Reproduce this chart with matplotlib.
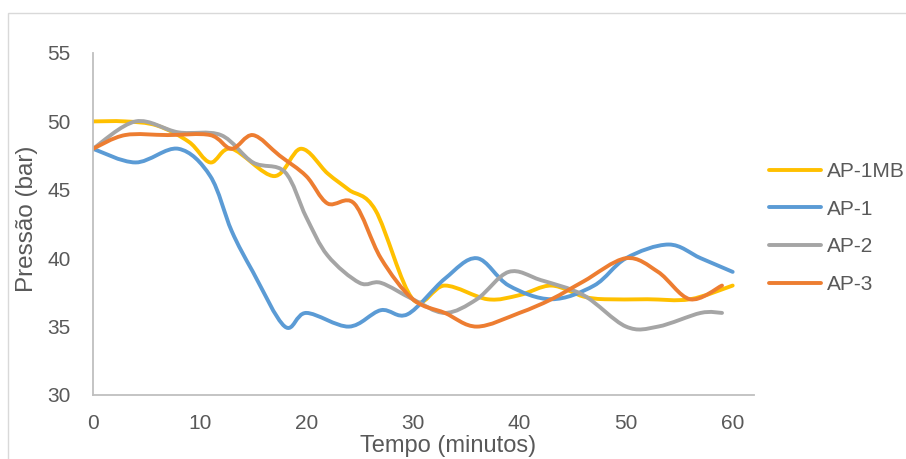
import matplotlib
matplotlib.use("Agg")
import matplotlib.pyplot as plt
from matplotlib.path import Path
from matplotlib.patches import PathPatch, Rectangle
from matplotlib.lines import Line2D

plt.rcParams['font.family'] = ['Liberation Sans', 'DejaVu Sans']

# data (time in minutes, pressure in bar)
t_ap1mb = [0, 3, 6, 9, 11, 13, 17, 19.5, 22, 24, 26.5, 30, 33, 37, 40, 43, 46, 48, 52, 56, 60]
p_ap1mb = [50, 50, 49.7, 48.5, 47, 48, 46, 48, 46.2, 45, 43.5, 37, 38, 37, 37.3, 38, 37.2, 37, 37, 37, 38]

t_ap1 = [0, 4, 8, 11, 13, 15, 18, 20, 24, 27, 29.5, 33, 36, 39, 43, 47, 50, 54, 57, 60]
p_ap1 = [48, 47, 48, 46, 42, 39, 35, 36, 35, 36.2, 35.9, 38.5, 40, 38, 37, 38, 40, 41, 40, 39]

t_ap2 = [0, 4, 8, 12, 15, 18, 20, 22, 25, 27, 30, 33, 36, 39, 42, 46, 50, 53, 57, 59]
p_ap2 = [48, 50, 49.2, 49, 47, 46.3, 43, 40.2, 38.2, 38.2, 37, 36, 37, 39, 38.4, 37.3, 35, 35, 36, 36]

t_ap3 = [0, 3, 7, 11, 13, 15, 17.5, 20, 22, 24.5, 27, 30, 33, 36, 40, 43, 46, 50, 53, 56, 59]
p_ap3 = [48, 49, 49, 49, 48, 49, 47.5, 46, 44, 44, 40, 37, 36, 35, 36, 37, 38.3, 40, 39, 37, 38]

series = [
    ("AP-1MB", t_ap1mb, p_ap1mb, "#FFC000"),
    ("AP-1", t_ap1, p_ap1, "#5B9BD5"),
    ("AP-2", t_ap2, p_ap2, "#A5A5A5"),
    ("AP-3", t_ap3, p_ap3, "#ED7D31"),
]


def smooth_path(xs, ys):
    # excel style smoothed line: cubic bezier through every point
    pts = list(zip(xs, ys))
    verts = [pts[0]]
    codes = [Path.MOVETO]
    n = len(pts)
    for i in range(n - 1):
        p0 = pts[i - 1] if i > 0 else pts[i]
        p1 = pts[i]
        p2 = pts[i + 1]
        p3 = pts[i + 2] if i + 2 < n else pts[i + 1]
        c1 = (p1[0] + (p2[0] - p0[0]) / 6, p1[1] + (p2[1] - p0[1]) / 6)
        c2 = (p2[0] - (p3[0] - p1[0]) / 6, p2[1] - (p3[1] - p1[1]) / 6)
        verts += [c1, c2, p2]
        codes += [Path.CURVE4] * 3
    return Path(verts, codes)


fig = plt.figure(figsize=(9.06, 4.59), dpi=100)
ax = fig.add_axes([93 / 906, 1 - 395 / 459, 661 / 906, 342 / 459])

# chart area border
fig.patches.append(Rectangle((8 / 906, -0.1), 1.2, 1 - 13 / 459 + 0.1, transform=fig.transFigure,
                             fill=False, edgecolor="#D9D9D9", linewidth=1))

handles = []
for name, xs, ys, color in series:
    patch = PathPatch(smooth_path(xs, ys), facecolor="none", edgecolor=color, linewidth=2.8,
                      capstyle="round", joinstyle="round")
    ax.add_patch(patch)
    handles.append(Line2D([], [], color=color, linewidth=2.8, solid_capstyle="round", label=name))

ax.set_xlim(0, 62)
ax.set_ylim(30, 55)
ax.set_xticks(range(0, 61, 10))
ax.set_yticks(range(30, 56, 5))

for side in ["top", "right"]:
    ax.spines[side].set_visible(False)
for side in ["left", "bottom"]:
    ax.spines[side].set_color("#BFBFBF")
    ax.spines[side].set_linewidth(1.3)

ax.tick_params(axis="both", length=0, labelsize=15, labelcolor="#595959")
ax.tick_params(axis="x", pad=14)
ax.tick_params(axis="y", pad=16)

ax.set_xlabel("Tempo (minutos)", fontsize=17, color="#595959")
ax.set_ylabel("Pressão (bar)", fontsize=17.5, color="#595959")
ax.xaxis.set_label_coords(0.537, -0.118)
ax.yaxis.set_label_coords(-0.083, 0.515)

fig.legend(handles=handles, loc="center left", bbox_to_anchor=(769 / 906, 1 - 228 / 459),
           frameon=False, fontsize=15, labelcolor="#595959", handlelength=2.5,
           labelspacing=0.9, handletextpad=0.3, borderaxespad=0, borderpad=0)

fig.savefig("out.png", dpi=100)
